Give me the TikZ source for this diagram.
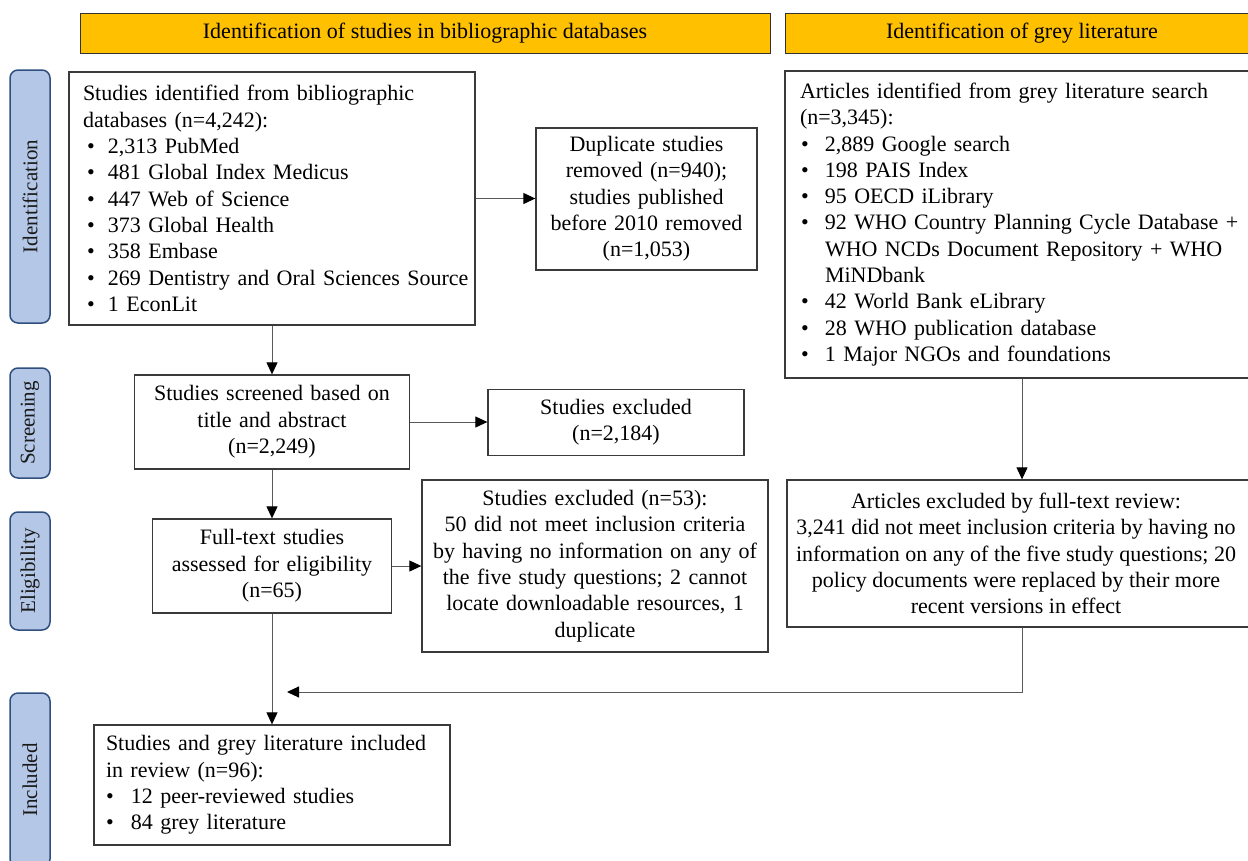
\documentclass[tikz,border=0pt]{standalone}
\usepackage{fontspec}
\setmainfont{Liberation Serif}
\usetikzlibrary{arrows.meta,calc}
\definecolor{headgold}{HTML}{FFC000}
\definecolor{sidefill}{HTML}{B4C7E7}
\definecolor{sideblue}{HTML}{2F4F7F}
\definecolor{boxgray}{HTML}{3A3A3A}
\definecolor{linegray}{HTML}{5A5A5A}
\newcommand\blt[1]{\hspace*{#1pt}\makebox[\dimexpr25pt-#1pt\relax][l]{\textbullet}}
\begin{document}
\begin{tikzpicture}[x=1pt,y=-1pt,
  every node/.style={font=\fontsize{22}{26.3}\selectfont, inner ysep=0pt},
  box/.style={draw=boxgray, line width=1.3pt, fill=white},
  header/.style={draw=black!80, line width=1pt, fill=headgold, inner sep=0pt},
  side/.style={draw=sideblue, fill=sidefill, line width=1.5pt, rounded corners=8pt, rotate=90, inner sep=0pt, minimum height=40pt, text=black!90, font=\fontsize{21}{25}\selectfont},
  conn/.style={draw=linegray, line width=1pt, -{Triangle[length=12pt,width=11pt,color=black]}}
]
\useasboundingbox (0,0) rectangle (1248,860);

% headers
\node[header, minimum width=690pt, minimum height=40pt] (h1) at (425,33) {Identification of studies in bibliographic databases};
\node[header, minimum width=474pt, minimum height=40pt] (h2) at (1022,33) {Identification of grey literature};

% side labels
\node[side, minimum width=253pt] (s1) at (30,196.5) {Identification};
\node[side, minimum width=110pt] (s2) at (30,423) {Screening};
\node[side, minimum width=118pt] (s3) at (30,571) {Eligibility};
\node[side, minimum width=174pt] (s4) at (30,780) {Included};

% boxes
\node[box, text width=378pt, inner xsep=14pt, minimum height=253pt, align=left] (b1) at (272,198.5) {%
Studies identified from bibliographic\\
databases (n=4,242):\\
\blt{4}2,313 PubMed\\
\blt{4}481 Global Index Medicus\\
\blt{4}447 Web of Science\\
\blt{4}373 Global Health\\
\blt{4}358 Embase\\
\blt{4}\rlap{269 Dentistry and Oral Sciences Source}\\
\blt{4}1 EconLit};

\node[box, text width=205pt, inner xsep=8pt, minimum height=142pt, align=center] (dup) at (646.5,199) {%
Duplicate studies\\removed (n=940);\\studies published\\before 2010 removed\\(n=1,053)};

\node[box, text width=444pt, inner xsep=15pt, minimum height=307pt, align=left] (art) at (1022,224.5) {%
Articles identified from grey literature search\\
(n=3,345):\\
\blt{1}2,889 Google search\\
\blt{1}198 PAIS Index\\
\blt{1}95 OECD iLibrary\\
\blt{1}92 WHO Country Planning Cycle Database +\\
\hspace*{25pt}WHO NCDs Document Repository + WHO\\
\hspace*{25pt}MiNDbank\\
\blt{1}42 World Bank eLibrary\\
\blt{1}28 WHO publication database\\
\blt{1}1 Major NGOs and foundations};

\node[box, text width=259pt, inner xsep=8pt, minimum height=94pt, align=center] (scr) at (272,422) {%
Studies screened based on\\title and abstract\\(n=2,249)};

\node[box, text width=240pt, inner xsep=8pt, minimum height=66pt, align=center] (ex1) at (616,422.5) {%
Studies excluded\\(n=2,184)};

\node[box, text width=223pt, inner xsep=8pt, minimum height=94pt, align=center] (ft) at (272,566) {%
Full-text studies\\assessed for eligibility\\(n=65)};

\node[box, text width=330pt, inner xsep=8pt, minimum height=172pt, align=center] (ex53) at (595,566) {%
Studies excluded (n=53):\\
50 did not meet inclusion criteria\\
by having no information on any of\\
the five study questions; 2 cannot\\
locate downloadable resources, 1\\
duplicate};

\node[box, minimum width=470pt, minimum height=147pt] (artex) at (1022,553.5) {};
\node[align=center, inner sep=0pt] (artext) at ($(artex.center)+(-6,0)$) {%
Articles excluded by full-text review:\\
3,241 did not meet inclusion criteria by having no\\
information on any of the five study questions; 20\\
policy documents were replaced by their more\\
recent versions in effect};

\node[box, text width=332pt, inner xsep=12pt, minimum height=120pt, align=left] (inc) at (272,785) {%
Studies and grey literature included\\
in review (n=96):\\
\blt{0}12 peer-reviewed studies\\
\blt{0}84 grey literature};

\coordinate (mid) at (287,692);

% connectors
\draw[conn] (b1.east) -- (b1.east -| dup.west);
\draw[conn] (b1.south) -- (scr.north);
\draw[conn] (scr.east) -- (scr.east -| ex1.west);
\draw[conn] (scr.south) -- (ft.north);
\draw[conn] (ft.east) -- (ft.east -| ex53.west);
\draw[conn] (ft.south) -- (ft.south |- inc.north);
\draw[conn] (art.south) -- (artex.north);
\draw[conn] (artex.south) |- (mid);
\end{tikzpicture}
\end{document}
